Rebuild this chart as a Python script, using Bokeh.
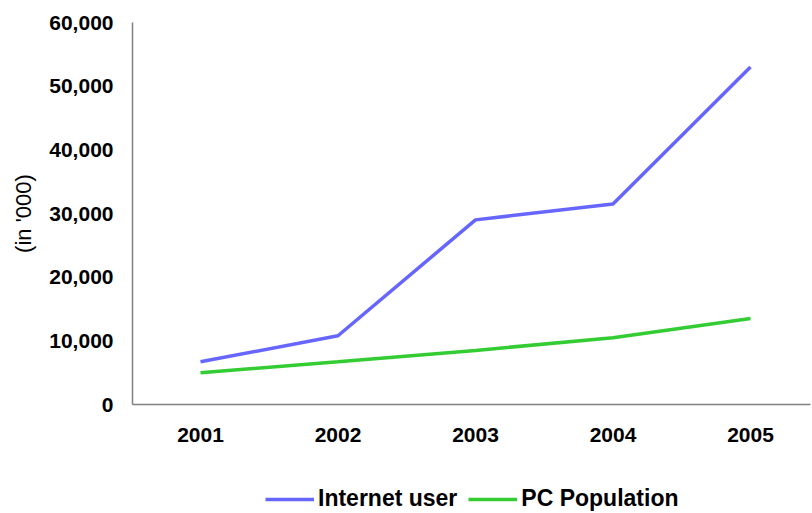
from bokeh.plotting import figure
from bokeh.layouts import column
from bokeh.models import Legend, LegendItem, NumeralTickFormatter, Range1d, FixedTicker
from bokeh.embed import file_html
from bokeh.resources import INLINE

years = ["2001", "2002", "2003", "2004", "2005"]
internet_users = [6700, 10800, 29000, 31500, 53000]
pc_population = [5000, 6700, 8500, 10500, 13500]
y_ticks = [0, 10000, 20000, 30000, 40000, 50000, 60000]

xs = list(range(1, len(years) + 1))
blue = "#6666FF"
green = "#33CC33"
font = "Liberation Sans"

p = figure(width=812, height=459, output_backend="svg", toolbar_location=None,
           x_range=Range1d(0.5055, 5.4364), y_range=Range1d(0, 60000),
           min_border_left=132, min_border_right=2, min_border_top=22, min_border_bottom=55)
p.outline_line_color = None
p.xgrid.visible = False
p.ygrid.visible = False

p.line(xs, internet_users, line_color=blue, line_width=3.5)
p.line(xs, pc_population, line_color=green, line_width=3.5)

for ax in (p.xaxis[0], p.yaxis[0]):
    ax.axis_line_color = "#808080"
    ax.axis_line_width = 1.5
    ax.major_tick_line_color = None
    ax.minor_tick_line_color = None
    ax.major_tick_out = 0
    ax.major_tick_in = 0
    ax.minor_tick_out = 0
    ax.major_label_text_font = font
    ax.major_label_text_font_style = "bold"
    ax.major_label_text_font_size = "21px"
    ax.major_label_text_color = "black"

p.xaxis.ticker = FixedTicker(ticks=xs)
p.xaxis.major_label_overrides = {x: y for x, y in zip(xs, years)}
p.xaxis.major_label_standoff = 23
p.yaxis.ticker = FixedTicker(ticks=y_ticks)
p.yaxis.formatter = NumeralTickFormatter(format="0,0")
p.yaxis.major_label_standoff = 19
p.yaxis.axis_label = "(in '000)"
p.yaxis.axis_label_text_font = font
p.yaxis.axis_label_text_font_style = "normal"
p.yaxis.axis_label_text_font_size = "22px"
p.yaxis.axis_label_text_color = "black"
p.yaxis.axis_label_standoff = 10

# legend strip below the chart
lg = figure(width=812, height=54, output_backend="svg", toolbar_location=None,
            x_range=Range1d(-10, -9), y_range=Range1d(-10, -9),
            x_axis_location=None, y_axis_location=None,
            min_border_left=0, min_border_right=0, min_border_top=0, min_border_bottom=0)
lg.outline_line_color = None
lg.xgrid.visible = False
lg.ygrid.visible = False
l1 = lg.line(xs, internet_users, line_color=blue, line_width=3.5)
l2 = lg.line(xs, pc_population, line_color=green, line_width=3.5)
legend = Legend(items=[LegendItem(label="Internet user", renderers=[l1]),
                       LegendItem(label="PC Population", renderers=[l2])],
                orientation="horizontal", location=(133, 1),
                label_text_font=font, label_text_font_style="bold",
                label_text_font_size="23px", label_text_color="black",
                glyph_width=49, label_standoff=4,
                spacing=11, border_line_color=None, background_fill_alpha=0,
                margin=0, padding=2)
lg.add_layout(legend, "center")

layout = column(p, lg, spacing=0)
open("out.html", "w").write(file_html(layout, INLINE))
